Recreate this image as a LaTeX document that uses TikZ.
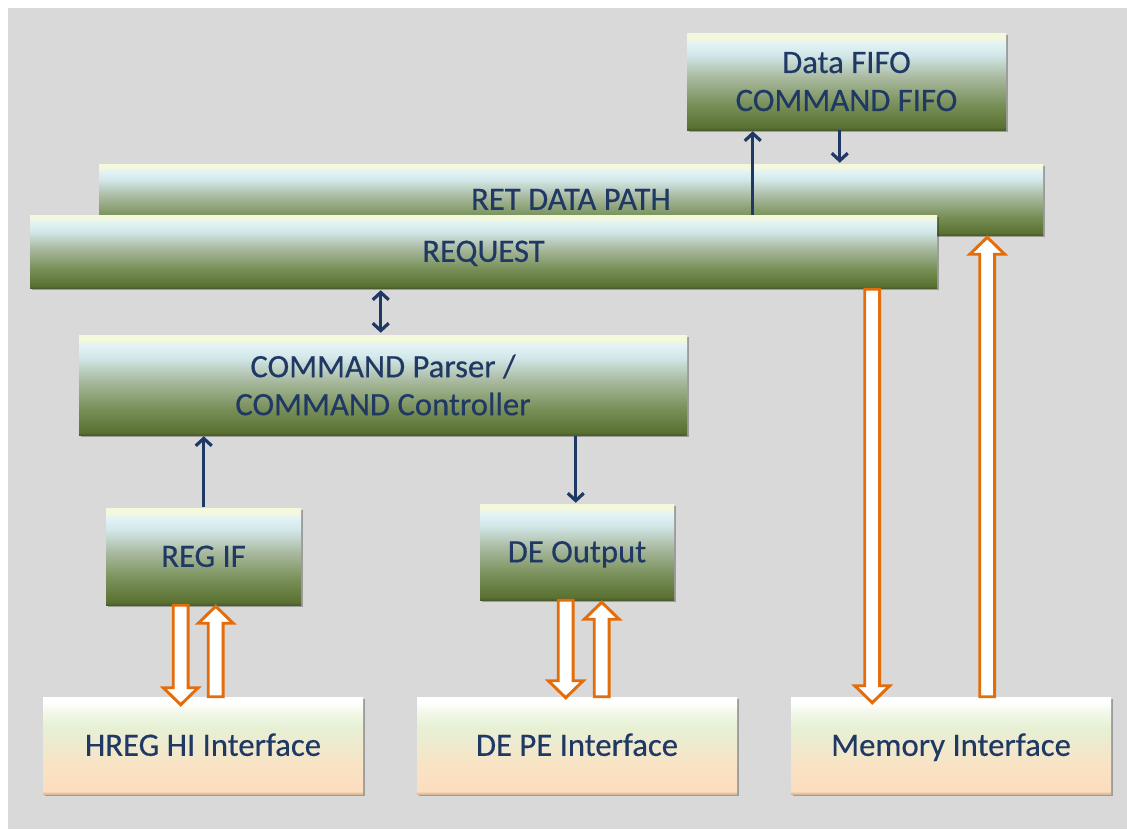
\documentclass[tikz,border=0pt]{standalone}
\usepackage{fontspec}
\setmainfont{Carlito}
\usetikzlibrary{calc,shadows,arrows.meta}

\definecolor{navy}{HTML}{1F3864}
\definecolor{panel}{HTML}{D9D9D9}
\definecolor{borange}{HTML}{E46C0A}
% green module boxes, bottom to top
\definecolor{gA}{HTML}{4A5E2B}
\definecolor{gB}{HTML}{5A7132}
\definecolor{gC}{HTML}{788F58}
\definecolor{gD}{HTML}{A8B99E}
\definecolor{gE}{HTML}{D3E8EA}
\definecolor{gF}{HTML}{E2F3F5}
\definecolor{gG}{HTML}{F4F8DC}
% interface boxes, bottom to top
\definecolor{pA}{HTML}{D9B896}
\definecolor{pB}{HTML}{FCDDBE}
\definecolor{pC}{HTML}{F9E3C4}
\definecolor{pD}{HTML}{EDEBCF}
\definecolor{pE}{HTML}{E6F1D6}
\definecolor{pF}{HTML}{F4F9EC}
\definecolor{pG}{HTML}{FFFFFF}

\pgfdeclareverticalshading{gshade}{100bp}{color(0bp)=(gA); color(25bp)=(gA);
  color(26.5bp)=(gB); color(38bp)=(gC); color(52bp)=(gD); color(64bp)=(gE);
  color(70bp)=(gF); color(72.5bp)=(gG); color(75bp)=(gG); color(100bp)=(gG)}
\pgfdeclareverticalshading{pshade}{100bp}{color(0bp)=(pA); color(25bp)=(pA);
  color(26.5bp)=(pB); color(40bp)=(pC); color(52bp)=(pD); color(60bp)=(pE);
  color(68bp)=(pF); color(72bp)=(pG); color(75bp)=(pG); color(100bp)=(pG)}

\tikzset{
  box/.style={inner sep=0pt, text=navy, align=center,
    font=\fontsize{24.5}{28.5}\selectfont\addfontfeature{FakeBold=0.4},
    drop shadow={shadow xshift=1.6pt, shadow yshift=-1.6pt, opacity=0.28, fill=black}},
  size/.style n args={2}{minimum width=#1*0.75pt, minimum height=#2*0.75pt},
  oneline/.style={text height=17pt, text depth=1.5pt},
  gbox/.style={box, shading=gshade},
  pbox/.style={box, shading=pshade, oneline},
  link/.style={draw=navy, line width=2.4pt, -{Straight Barb[length=5.5pt, width=12pt]}},
  blockbase/.style={draw=borange, line width=2.2pt, fill=white, line join=miter},
  downblock/.style={blockbase, to path={let \p1=(\tikztostart), \p2=(\tikztotarget) in
    (\x1-5.6pt,\y1) -- (\x1+5.6pt,\y1) -- (\x1+5.6pt,\y2+12.75pt) -- (\x1+13.1pt,\y2+12.75pt)
    -- (\x1,\y2) -- (\x1-13.1pt,\y2+12.75pt) -- (\x1-5.6pt,\y2+12.75pt) -- cycle}},
  upblock/.style={blockbase, to path={let \p1=(\tikztostart), \p2=(\tikztotarget) in
    (\x1-5.6pt,\y1) -- (\x1+5.6pt,\y1) -- (\x1+5.6pt,\y2-12.75pt) -- (\x1+13.1pt,\y2-12.75pt)
    -- (\x1,\y2) -- (\x1-13.1pt,\y2-12.75pt) -- (\x1-5.6pt,\y2-12.75pt) -- cycle}}
}

\begin{document}
\begin{tikzpicture}[x=0.75pt, y=-0.75pt]
  \useasboundingbox (0,0) rectangle (1127,829);
  \fill[white] (0,0) rectangle (1127,829);
  \fill[panel] (8,8) rectangle (1127,829);

  % module boxes
  \node[gbox, oneline, size={944}{71}] (ret) at (571,199.5) {RET DATA PATH};
  \node[gbox, size={319}{97}] (fifo) at (846.5,81.5) {Data FIFO\\COMMAND FIFO};
  \node[gbox, oneline, size={907}{73}] (req) at (483.5,251.5) {REQUEST};
  \node[gbox, size={608}{100}] (cmd) at (383,385) {COMMAND Parser /\\COMMAND Controller};
  \node[gbox, oneline, size={195}{97}] (regif) at (203.5,556.5) {REG IF};
  \node[gbox, oneline, size={194}{96}] (deout) at (577,552) {DE Output};

  % external interfaces
  \node[pbox, size={320}{97}] (hreg) at (203,745.5) {HREG HI Interface};
  \node[pbox, size={320}{97}] (depe) at (577,745.5) {DE PE Interface};
  \node[pbox, size={320}{97}] (mem) at (951,745.5) {Memory Interface};

  % control connections
  \draw[link] ($(req.north west)+(723,0)$) -- ($(fifo.south west)+(66,1)$);
  \draw[link] ($(fifo.south west)+(153,0)$) -- ($(ret.north west)+(741,-1)$);
  \draw[link, {Straight Barb[length=5.5pt, width=12pt]}-{Straight Barb[length=5.5pt, width=12pt]}]
    ($(req.south west)+(351,2)$) -- ($(cmd.north west)+(302,-2)$);
  \draw[link] ($(regif.north west)+(98,-1)$) -- ($(cmd.south west)+(125,1)$);
  \draw[link] ($(cmd.south west)+(497,1)$) -- ($(deout.north west)+(96,-1)$);

  % data paths
  \draw[downblock] ($(regif.south west)+(75,0)$) to ($(hreg.north west)+(138,8)$);
  \draw[upblock] ($(hreg.north west)+(173,0)$) to ($(regif.south west)+(110,1)$);
  \draw[downblock] ($(deout.south west)+(86,0)$) to ($(depe.north west)+(149,1)$);
  \draw[upblock] ($(depe.north west)+(185,0)$) to ($(deout.south west)+(122,2)$);
  \draw[downblock] ($(req.south west)+(842.5,1)$) to ($(mem.north west)+(81.5,6)$);
  \draw[upblock] ($(mem.north west)+(196.5,0)$) to ($(ret.south west)+(888.5,2)$);
\end{tikzpicture}
\end{document}
